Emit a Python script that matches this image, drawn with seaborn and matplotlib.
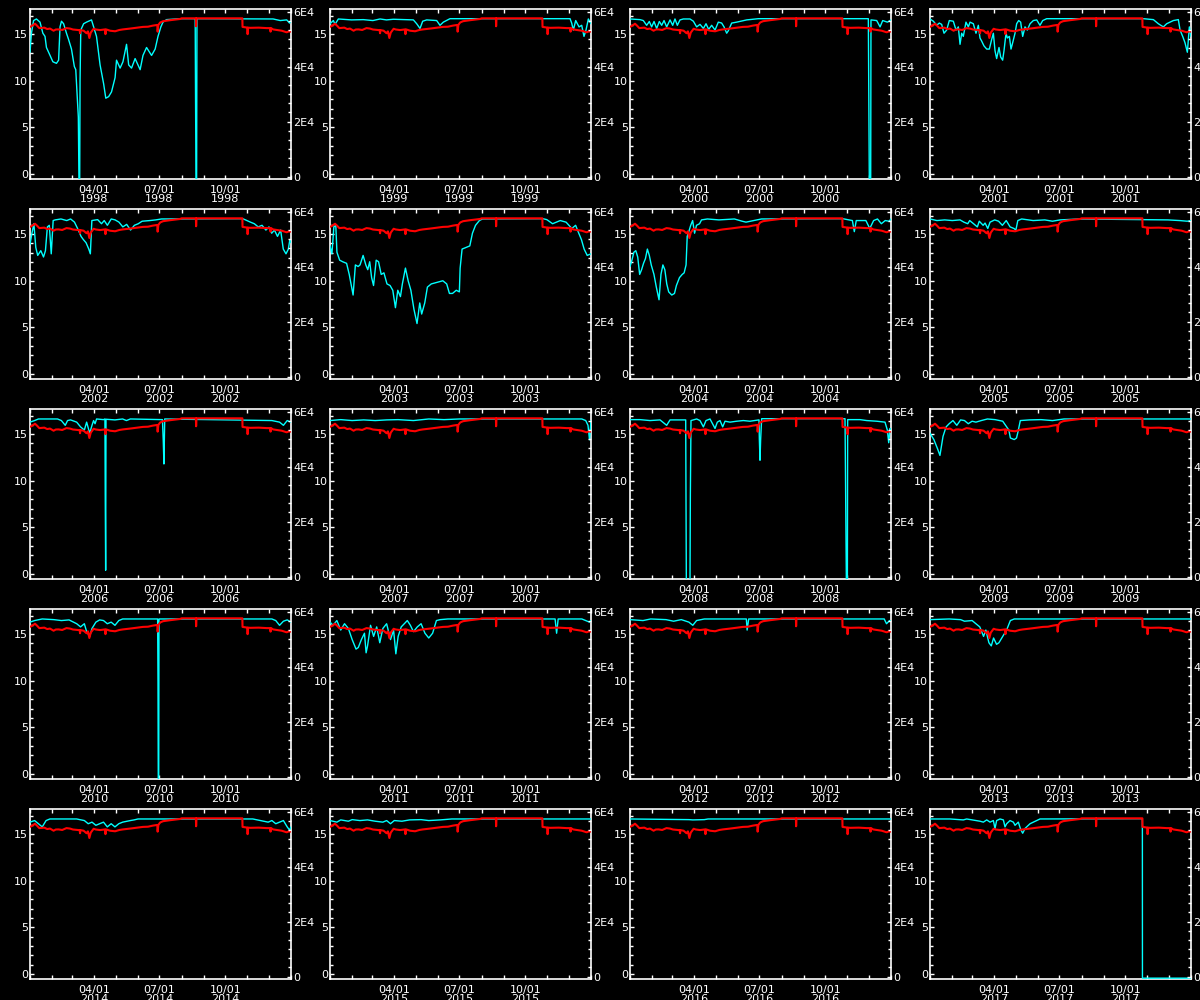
import pandas as pd
import seaborn as sns
import matplotlib.pyplot as plt
from matplotlib.ticker import FixedLocator, MultipleLocator

sns.set_theme(style="ticks", rc={"axes.grid": False})
plt.rcParams["font.family"] = ["DejaVu Sans"]

years = list(range(1998, 2018))
month_starts = [0, 31, 59, 90, 120, 151, 181, 212, 243, 273, 304, 334, 365]
quarter_days = [90, 181, 273]
quarter_text = ["04/01", "07/01", "10/01"]
left_ticks = [0, 5, 10, 15]
right_ticks = [0, 20000, 40000, 60000]
right_text = ["0", "2E4", "4E4", "6E4"]

# same reference curve in every panel (day of year, value)
red_curve = [(0, 15.78), (4, 15.95), (7, 16.12), (10, 15.9), (13, 15.65), (20, 15.7), (24, 15.55),
             (28, 15.6), (33, 15.37), (36, 15.5), (40, 15.51), (45, 15.45), (51, 15.65), (56, 15.6),
             (60, 15.5), (68, 15.44), (69.5, 15.44), (70, 15.1), (70.5, 15.44), (75, 15.37), (79, 15.1),
             (81, 15.3), (83, 14.59), (85, 15.17), (89, 15.58), (92, 15.5), (98, 15.44), (105, 15.51),
             (105.5, 15.0), (106.5, 15.51), (112, 15.37), (119, 15.31), (125, 15.45), (130, 15.51),
             (140, 15.6), (145, 15.65), (150, 15.7), (158, 15.78), (165, 15.8), (172, 15.92), (178, 15.99),
             (178.5, 15.27), (179.5, 15.99), (182, 16.25), (186, 16.39), (196, 16.5), (210, 16.63),
             (212, 16.7), (232, 16.7), (232.3, 15.85), (232.8, 16.7), (297, 16.7), (297.2, 15.78),
             (304, 15.7), (304.3, 15.0), (304.8, 15.7), (308, 15.68), (320, 15.7), (331, 15.65),
             (336, 15.65), (336.4, 15.27), (337, 15.65), (340, 15.51), (345, 15.45), (352, 15.37),
             (359, 15.2), (362, 15.3), (365, 15.27)]

cyan_1998 = [(0, 13.06), (2, 15.1), (5, 16.46), (9, 16.63), (14, 16.29), (18, 15.1), (21, 14.76), (23, 13.57),
             (28, 12.72), (32, 12.04), (37, 11.87), (40, 12.21), (42, 15.78), (44, 16.39), (47, 16.12), (51, 15.1),
             (54, 14.42), (56, 13.91), (58, 13.4), (62, 11.53), (64, 11.19), (67.6, 6.09), (68.5, -1), (69.5, -1),
             (70, 10.0), (71, 15.44), (75, 16.12), (79, 16.29), (84, 16.46), (86, 16.53), (89, 15.78), (93, 14.76),
             (98, 11.7), (103, 9.66), (106, 8.13), (110, 8.3), (114, 8.81), (119, 10.34), (121, 12.21), (126, 11.36),
             (130, 12.04), (135, 13.91), (138, 11.7), (142, 11.36), (147, 12.38), (154, 11.19), (158, 12.72),
             (163, 13.57), (170, 12.72), (175, 13.4), (179, 14.76), (183, 15.78), (186, 16.29), (191, 16.56),
             (210, 16.66), (231, 16.66), (231.5, 8.3), (232.2, -1), (233, -1), (233.5, 16.66), (340, 16.63),
             (350, 16.46), (359, 16.53), (363, 16.19), (365, 16.39)]
cyan_1999 = [(0, 16.12), (4.7, 16.46), (7, 16.05), (11.7, 16.63), (30, 16.53), (46.6, 16.56), (60, 16.46),
             (70, 16.63), (79, 16.53), (88.6, 16.6), (116.6, 16.53), (121.2, 16.12), (125.9, 15.61), (129.6, 16.39),
             (135.2, 16.53), (149.2, 16.46), (153.8, 15.95), (158.5, 16.29), (167.8, 16.66), (335.7, 16.66),
             (338, 16.19), (340.3, 15.44), (343.6, 16.46), (348.3, 15.78), (352, 15.95), (355.2, 14.76),
             (358, 15.44), (361.3, 16.63), (365, 16.12)]
cyan_2000 = [(0, 16.63), (14, 16.56), (18.6, 16.46), (23.3, 15.95), (27, 16.36), (30.3, 15.78), (33.6, 16.36),
             (37.3, 15.61), (41, 16.36), (44.3, 15.95), (47.6, 16.46), (51.3, 15.78), (56, 16.53), (59.7, 15.95),
             (62.9, 16.63), (66.2, 15.95), (69.9, 16.53), (74.6, 16.63), (83.9, 16.63), (88.6, 16.39), (93.2, 15.78),
             (97.9, 16.05), (102.6, 15.61), (106.3, 16.12), (110, 15.51), (114.2, 15.95), (118.9, 15.44),
             (123.5, 16.29), (128.2, 16.19), (131.5, 15.78), (135.2, 15.1), (137.5, 15.37), (142.2, 16.19),
             (149.2, 16.29), (163.2, 16.53), (179.5, 16.66), (333.3, 16.66), (333.8, 10.34), (334.7, -1),
             (336.6, -1), (337, 16.53), (345, 16.46), (349.7, 15.78), (353.4, 16.46), (360, 16.29), (365, 16.53)]
cyan_2001 = [(0, 16.63), (4.7, 16.39), (9.3, 15.95), (13, 16.19), (16.3, 16.05), (19.6, 15.1), (23.3, 15.44),
             (27, 16.46), (32.6, 16.39), (36.4, 15.44), (39.6, 15.78), (42, 13.91), (44.3, 15.1), (46.6, 14.76),
             (50.3, 16.29), (53.6, 15.78), (56, 16.29), (60.6, 16.12), (64.3, 15.1), (67.6, 15.95), (69.9, 14.59),
             (72.3, 14.25), (75.5, 13.74), (79.3, 13.4), (83, 13.4), (86.2, 14.42), (88.6, 15.1), (90.9, 13.23),
             (93.2, 12.38), (96.5, 13.57), (98.8, 12.55), (101.6, 12.21), (103.5, 13.23), (106.3, 15.1),
             (108.2, 14.59), (111, 14.76), (113.3, 13.4), (115.6, 14.08), (118.9, 15.1), (121.2, 16.12),
             (124, 16.46), (126.8, 16.29), (129.6, 14.76), (132.9, 15.78), (136.1, 15.44), (139.9, 16.12),
             (144.5, 16.46), (149.2, 16.53), (153.8, 15.95), (157.6, 16.46), (163.2, 16.66), (298.4, 16.66),
             (312.4, 16.56), (319.3, 16.12), (326.3, 15.78), (331, 16.12), (340.3, 16.46), (347.3, 16.56),
             (349.7, 15.44), (353.4, 14.76), (356.6, 14.08), (359.9, 13.06), (362.7, 15.78), (365, 14.76)]
cyan_2002 = [(0, 13.91), (2.7, 15.1), (5.4, 16.12), (8.1, 13.57), (10.8, 12.72), (15.1, 13.23), (18.9, 12.55),
             (21.6, 13.23), (24.3, 15.78), (27, 15.95), (29.7, 12.89), (32.4, 16.46), (35.2, 16.53), (43.3, 16.63),
             (51.4, 16.46), (56.8, 16.63), (62.2, 16.29), (67.6, 15.44), (71.4, 14.76), (74.6, 14.42), (78.4, 14.08),
             (82.2, 13.4), (84.4, 12.89), (86.5, 16.46), (94.6, 16.56), (100, 16.12), (103.8, 16.46), (108.2, 15.95),
             (113.6, 16.63), (119, 16.53), (124.4, 16.29), (129.8, 15.78), (135.2, 16.05), (140.6, 15.44),
             (146, 15.95), (151.4, 16.12), (156.8, 16.39), (167.7, 16.46), (175.8, 16.53), (183.9, 16.63),
             (297.5, 16.66), (308.3, 16.29), (313.7, 16.12), (319.1, 15.78), (324.5, 15.95), (329.9, 15.44),
             (334.2, 15.78), (338, 15.1), (341.8, 15.44), (346.1, 14.76), (350.5, 15.44), (354.2, 13.4),
             (358, 12.89), (361.3, 13.4), (363.4, 14.42), (365, 14.08)]
cyan_2003 = [(0, 13.74), (2.7, 12.89), (5.4, 15.78), (8.1, 15.95), (9.7, 13.06), (13.5, 12.21), (17.8, 12.04),
             (23.2, 11.87), (26.9, 10.68), (32.3, 8.47), (35.5, 11.7), (39.3, 11.53), (42, 11.7), (46.3, 12.72),
             (50.1, 11.7), (52.8, 11.19), (55.5, 12.04), (58.2, 10.34), (60.9, 9.49), (64.6, 12.21), (67.9, 12.04),
             (71.6, 10.68), (75.4, 10.85), (79.7, 9.66), (84, 9.49), (87.8, 8.98), (91.5, 7.11), (94.8, 8.98),
             (98.5, 8.3), (101.2, 9.66), (105.5, 11.36), (109.3, 10.0), (113.1, 8.98), (117.4, 6.94), (121.7, 5.41),
             (125.5, 7.62), (128.2, 6.43), (132.5, 7.62), (136.2, 9.32), (141.6, 9.66), (149.7, 9.83), (157.8, 10.0),
             (163.2, 9.66), (167, 8.64), (171.3, 8.64), (176.6, 8.98), (180.9, 8.81), (182, 11.36), (184.7, 13.4),
             (190.1, 13.57), (195.5, 13.74), (199.2, 15.1), (203.5, 15.95), (208.9, 16.46), (213.2, 16.63),
             (297.8, 16.66), (303.2, 16.56), (311.3, 16.12), (322, 16.46), (330.1, 16.29), (338.2, 15.61),
             (343.5, 15.95), (347.9, 15.1), (351.6, 14.42), (355.4, 13.4), (359.7, 12.72), (365, 12.89)]
cyan_2004 = [(0, 11.53), (2.7, 12.21), (5.4, 13.06), (8.1, 13.23), (10.8, 12.55), (13.5, 10.68), (16.2, 11.19),
             (18.9, 11.87), (21.6, 12.38), (24.3, 13.4), (27, 12.72), (29.7, 11.7), (33.5, 10.68), (36.8, 9.32),
             (40.6, 7.96), (43.3, 10.68), (46, 11.7), (48.7, 11.19), (51.4, 9.66), (54.1, 8.81), (58.4, 8.47),
             (62.2, 8.64), (64.9, 9.49), (69.2, 10.34), (73, 10.68), (75.7, 10.85), (78.4, 11.7), (80, 14.76),
             (82.2, 15.27), (84.9, 15.95), (87.6, 16.46), (90.3, 15.1), (93, 15.95), (97.3, 16.12), (100, 16.53),
             (108.2, 16.63), (124.4, 16.53), (146, 16.63), (156.8, 16.39), (162.2, 16.29), (173, 16.46),
             (183.9, 16.63), (297.5, 16.66), (311, 16.46), (313.7, 15.27), (316.4, 16.46), (329.9, 16.46),
             (335.3, 15.61), (340.7, 16.46), (346.1, 16.63), (351.5, 16.12), (356.9, 16.46), (362.4, 16.39),
             (365, 16.63)]
cyan_2005 = [(0, 16.63), (9.7, 16.46), (20.5, 16.53), (31.2, 16.46), (42, 16.53), (47.4, 16.29), (52.8, 16.12),
             (55.5, 16.46), (60.9, 16.12), (66.2, 15.78), (68.9, 16.39), (74.3, 15.95), (77, 16.19), (80.8, 15.61),
             (84, 16.29), (90.5, 16.53), (95.9, 16.39), (101.2, 15.95), (106.6, 16.46), (112, 15.78),
             (117.4, 15.61), (120.1, 15.44), (122.8, 16.46), (128.2, 16.63), (144.3, 16.46), (160.5, 16.53),
             (171.2, 16.39), (182, 16.53), (208.9, 16.63), (332.8, 16.53), (349, 16.46), (359.7, 16.39),
             (365, 16.46)]
cyan_2006 = [(0, 16.29), (6.4, 16.46), (11.8, 16.63), (38.5, 16.63), (43.9, 16.46), (49.3, 15.95), (52.5, 16.46),
             (56.7, 16.53), (65.3, 16.29), (70.7, 15.78), (76, 15.44), (79.2, 16.29), (83.5, 15.1), (86.7, 15.95),
             (88.9, 16.46), (91, 16.12), (93.1, 16.63), (102.8, 16.56), (104.8, 16.63), (105.2, 8.6), (105.8, 0.4),
             (106.3, 16.6), (118.8, 16.53), (129.5, 16.63), (134.9, 16.46), (140.3, 16.63), (185.2, 16.56),
             (186.3, 14.42), (187.3, 11.8), (188.4, 16.63), (338.3, 16.46), (349, 16.29), (354.4, 15.95),
             (359.7, 16.46), (365, 16.29)]
cyan_2007 = [(0, 16.46), (15, 16.56), (31, 16.46), (47.1, 16.53), (63.2, 16.46), (79.2, 16.53), (95.3, 16.56),
             (116.7, 16.46), (138.1, 16.63), (159.5, 16.56), (180.9, 16.63), (352.2, 16.63), (357.6, 16.46),
             (360.8, 15.95), (362.9, 14.4), (365, 16.46)]
cyan_2008 = [(0, 16.56), (14, 16.56), (28, 16.46), (42, 16.53), (51.3, 15.95), (56, 16.53), (77.9, 16.53),
             (78.3, 8.4), (78.8, -1), (83.9, -1), (84.4, 8.4), (85.3, 16.46), (93.2, 16.63), (97.9, 16.46),
             (102.6, 15.78), (106.3, 16.46), (111.9, 16.63), (116.6, 15.95), (118.9, 15.61), (122.1, 16.29),
             (125.9, 16.46), (129.6, 15.78), (132.9, 16.39), (139.9, 16.29), (149.2, 16.39), (158.5, 16.46),
             (167.8, 16.39), (180.4, 16.53), (180.9, 14.42), (181.8, 12.2), (182.7, 14.42), (184.1, 16.66),
             (300.7, 16.66), (301.6, 8.3), (302.6, -1), (304, -1), (304.4, 16.56), (321.7, 16.56), (331, 16.46),
             (345, 16.39), (356.6, 16.29), (359.9, 15.44), (361.8, 14.08), (363.6, 15.61), (365, 15.44)]
cyan_2009 = [(0, 15.1), (5.4, 14.42), (10.7, 13.4), (13.9, 12.72), (18.2, 14.76), (22.5, 15.78), (26.8, 16.12),
             (32.1, 16.46), (37.5, 15.95), (42.8, 16.53), (48.2, 16.46), (53.5, 16.12), (58.9, 16.39), (64.2, 16.29),
             (71.7, 16.46), (80.3, 16.63), (91, 16.56), (101.7, 16.39), (110.3, 15.44), (112.4, 14.59),
             (117.8, 14.42), (121, 14.59), (123.1, 15.27), (126.3, 16.46), (139.2, 16.53), (155.2, 16.56),
             (171.3, 16.46), (187.4, 16.63), (365, 16.63)]
cyan_2010 = [(0, 16.29), (6.4, 16.46), (17.1, 16.63), (33.2, 16.56), (43.9, 16.46), (54.6, 16.53), (65.3, 16.12),
             (70.7, 15.78), (76, 16.12), (79.2, 15.27), (83.5, 14.76), (86.7, 15.61), (92.1, 16.29), (97.4, 16.53),
             (102.8, 16.46), (108.1, 16.12), (113.5, 16.29), (118.8, 15.95), (124.2, 16.46), (129.6, 16.63),
             (178.5, 16.63), (179, 9.8), (179.4, -1), (180, -1), (180.4, 16.63), (338.3, 16.63), (343.7, 16.46),
             (349, 15.95), (354.4, 16.39), (359.7, 16.53), (365, 16.29)]
cyan_2011 = [(0, 16.29), (4.3, 15.95), (9.6, 16.46), (15, 15.44), (20.3, 16.12), (25.7, 15.61), (31, 14.42),
             (36.4, 13.4), (39.6, 13.57), (43.9, 14.42), (48.2, 15.1), (50.5, 13.0), (52.5, 13.74), (56.7, 15.95),
             (61, 14.76), (65.3, 15.78), (69.6, 14.08), (73.9, 15.61), (79.2, 16.12), (84.6, 14.42), (88.9, 15.44),
             (92.1, 12.89), (95.3, 14.76), (99.6, 15.78), (103.9, 16.12), (108.1, 16.46), (112.4, 15.95),
             (116.7, 15.27), (122.1, 15.78), (127.4, 16.12), (132.8, 15.1), (138.1, 14.59), (143.5, 15.1),
             (148.8, 16.46), (154.2, 16.56), (164.9, 16.63), (314.8, 16.63), (316.9, 15.1), (319.1, 16.63),
             (352.2, 16.63), (357.6, 16.46), (362.9, 16.29), (365, 16.46)]
cyan_2012 = [(0, 16.56), (18.2, 16.46), (28.9, 16.63), (50.3, 16.56), (61, 16.39), (71.7, 16.56), (82.4, 16.29),
             (87.8, 15.95), (93.1, 16.46), (103.9, 16.63), (162.7, 16.63), (163.8, 15.44), (166, 16.63),
             (355.5, 16.63), (358.7, 16.12), (363, 16.46), (365, 16.39)]
cyan_2013 = [(0, 16.56), (26.8, 16.63), (42.8, 16.56), (48.2, 16.39), (58.9, 16.46), (64.2, 16.12), (69.6, 15.78),
             (74.9, 14.76), (78.1, 15.44), (82.4, 14.08), (85.7, 13.74), (88.9, 14.59), (93.1, 13.91), (96.4, 14.08),
             (101.7, 14.76), (107.1, 15.44), (112.4, 16.46), (117.8, 16.63), (365, 16.63)]
cyan_2014 = [(0, 16.29), (6.4, 16.46), (11.8, 16.12), (17.1, 15.78), (22.5, 16.46), (27.8, 16.63), (65.3, 16.63),
             (76, 16.46), (81.4, 16.12), (86.7, 16.29), (92.1, 15.95), (97.4, 16.12), (102.8, 16.29), (108.1, 15.78),
             (113.5, 16.12), (118.8, 15.78), (124.2, 16.12), (129.6, 16.29), (140.3, 16.46), (145.6, 16.53),
             (151, 16.63), (311.6, 16.63), (322.3, 16.46), (333, 16.29), (338.3, 16.46), (343.7, 16.12),
             (349, 16.29), (354.4, 16.46), (359.7, 15.78), (363, 15.44), (365, 15.78)]
cyan_2015 = [(0, 16.46), (9.6, 16.29), (15, 16.53), (25.7, 16.39), (31, 16.56), (41.8, 16.46), (52.5, 16.53),
             (63.2, 16.39), (73.9, 16.29), (79.2, 16.46), (84.6, 16.12), (89.9, 16.46), (100.6, 16.39),
             (111.3, 16.53), (127.4, 16.56), (138.1, 16.46), (154.2, 16.53), (170.2, 16.63), (365, 16.63)]
cyan_2016 = [(0, 16.63), (82.4, 16.56), (87.8, 16.53), (103.9, 16.56), (109.2, 16.63), (365, 16.63)]
cyan_2017 = [(0, 16.63), (28, 16.63), (46.6, 16.53), (51.3, 16.63), (69.9, 16.39), (74.6, 16.29), (79.3, 16.53),
             (84, 16.29), (88.6, 16.46), (90.9, 15.61), (93.2, 16.46), (97.9, 16.63), (102.6, 16.53), (104.9, 15.78),
             (107.2, 16.12), (111.9, 16.46), (116.6, 16.29), (118.9, 15.95), (123.5, 16.29), (126.8, 15.51),
             (129.6, 15.1), (132.9, 15.61), (135.2, 15.78), (139.9, 16.12), (144.5, 16.29), (149.2, 16.46),
             (153.8, 16.63), (297, 16.66), (297.1, -0.45), (365, -0.45)]

cyan_by_year = dict(zip(years, [cyan_1998, cyan_1999, cyan_2000, cyan_2001, cyan_2002, cyan_2003, cyan_2004,
                                cyan_2005, cyan_2006, cyan_2007, cyan_2008, cyan_2009, cyan_2010, cyan_2011,
                                cyan_2012, cyan_2013, cyan_2014, cyan_2015, cyan_2016, cyan_2017]))

red_df = pd.DataFrame(red_curve, columns=["day", "value"])

fig = plt.figure(figsize=(12, 10), dpi=100, facecolor="black")

for i, yr in enumerate(years):
    row, col = divmod(i, 4)
    ax = fig.add_axes([(30 + 300 * col) / 1200, 1 - (179 + 200 * row) / 1000, 261 / 1200, 170 / 1000])
    ax.set_facecolor("black")

    cyan_df = pd.DataFrame(cyan_by_year[yr], columns=["day", "value"])
    sns.lineplot(data=cyan_df, x="day", y="value", ax=ax, color="#00ffff", lw=1.0,
                 estimator=None, sort=False, zorder=2.6)
    sns.lineplot(data=red_df, x="day", y="value", ax=ax, color="#ff0000", lw=1.5,
                 estimator=None, sort=False, zorder=3)

    ax.set_xlim(0, 365)
    ax.set_ylim(-0.54, 17.7)
    ax.set_xlabel("")
    ax.set_ylabel("")
    for s in ax.spines.values():
        s.set_visible(True)
        s.set_color("white")
        s.set_linewidth(1.2)

    ax.xaxis.set_major_locator(FixedLocator(quarter_days))
    ax.xaxis.set_minor_locator(FixedLocator(month_starts))
    ax.set_xticklabels([q + "\n" + str(yr) for q in quarter_text], linespacing=0.95)
    ax.tick_params(axis="x", which="both", direction="in", top=True, bottom=True,
                   colors="white", length=3, width=1, labelsize=8, pad=4)

    ax.yaxis.set_major_locator(FixedLocator(left_ticks))
    ax.yaxis.set_minor_locator(MultipleLocator(1))
    ax.tick_params(axis="y", which="major", direction="in", left=True, right=False,
                   colors="white", length=3.2, width=1, labelsize=8, pad=1.5)
    ax.tick_params(axis="y", which="minor", direction="in", left=True, right=False,
                   colors="white", length=2, width=1)

    ax2 = ax.twinx()
    ax2.set_ylim(-900, 61000)
    ax2.yaxis.set_major_locator(FixedLocator(right_ticks))
    ax2.set_yticklabels(right_text)
    ax2.yaxis.set_minor_locator(MultipleLocator(20000 / 6))
    ax2.tick_params(axis="y", which="major", direction="in", right=True, left=False,
                    colors="white", length=3.2, width=1, labelsize=8, pad=1.5)
    ax2.tick_params(axis="y", which="minor", direction="in", right=True, left=False,
                    colors="white", length=2, width=1)
    for s in ax2.spines.values():
        s.set_visible(False)

fig.savefig("out.png", dpi=100, facecolor="black")
